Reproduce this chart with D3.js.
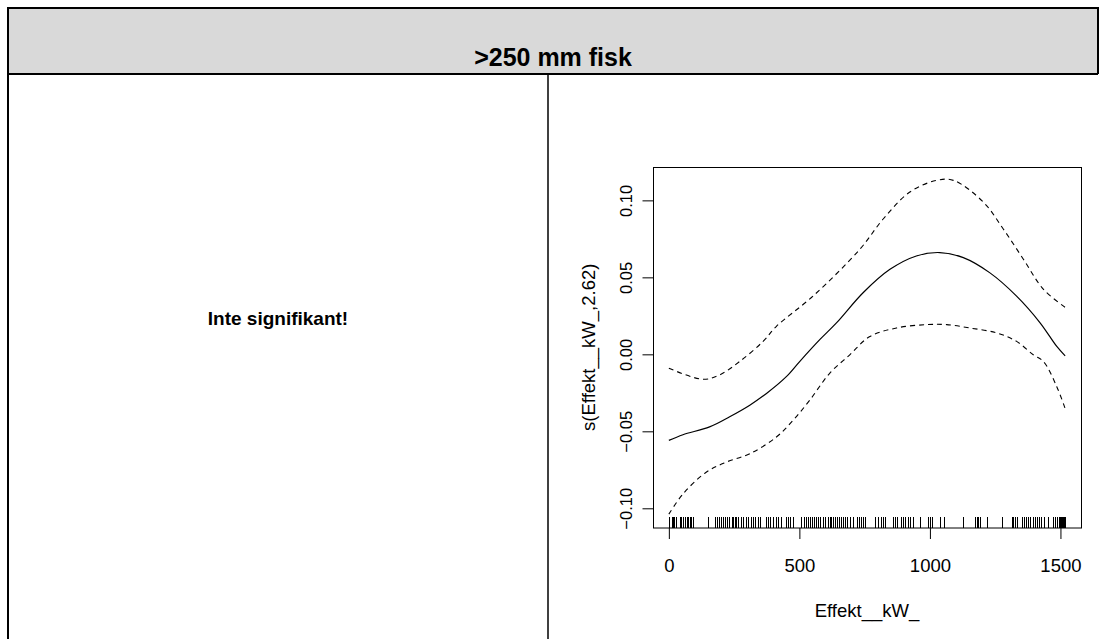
<!DOCTYPE html>
<html lang="sv">

<head>
    <meta charset="UTF-8">
    <script src="https://cdn.jsdelivr.net/npm/d3@7"></script>
    <title>>250 mm fisk</title>
    <style type="text/css">
        body {
            margin: 0;
            background: #fff;
        }

        text {
            font-family: "Liberation Sans", Arial, sans-serif;
            fill: #000;
        }

        .title_text {
            font-weight: bold;
            font-size: 25px;
        }

        .note_text {
            font-weight: bold;
            font-size: 19px;
        }

        .axis_text {
            font-size: 18.5px;
        }

        .ytick_text {
            font-size: 16.5px;
        }
    </style>
</head>

<body>
    <div id="chart" style="width: 1100px; height: 639px;"></div>
    <script>
        // data
        var effekt = [0, 54, 156, 233, 310, 374, 450, 501, 578, 642, 744, 847, 948, 1038, 1128, 1230, 1332, 1422, 1486, 1518];
        var fit = [-0.0559, -0.0522, -0.0471, -0.0405, -0.0330, -0.0254, -0.0145, -0.0047, 0.0095, 0.0204, 0.0400, 0.0552, 0.0639, 0.0661, 0.0628, 0.0529, 0.0378, 0.0205, 0.0051, -0.0010];

        var upperX = [0, 130, 194, 271, 361, 412, 552, 732, 821, 923, 1026, 1090, 1205, 1281, 1358, 1435, 1518];
        var upper = [-0.0090, -0.0162, -0.0134, -0.0047, 0.0084, 0.0182, 0.0378, 0.0683, 0.0879, 0.1054, 0.1130, 0.1130, 0.0988, 0.0814, 0.0618, 0.0422, 0.0305];

        var lowerX = [0, 54, 143, 220, 310, 412, 476, 540, 616, 693, 770, 872, 987, 1064, 1153, 1256, 1332, 1396, 1435, 1486, 1518];
        var lower = [-0.1038, -0.0907, -0.0766, -0.0700, -0.0646, -0.0537, -0.0428, -0.0297, -0.0123, -0.0003, 0.0116, 0.0171, 0.0193, 0.0193, 0.0171, 0.0139, 0.0084, -0.0003, -0.0047, -0.0210, -0.0352];

        var rugX = [0, 12, 15, 18, 28, 41, 47, 54, 60, 69, 75, 81, 86, 92, 150, 175, 185, 194, 201, 208, 215, 222, 230, 240, 245, 252, 258, 264, 278, 284, 297, 303, 316, 322, 329, 340, 348, 374, 380, 386, 399, 412, 418, 431, 450, 456, 463, 476,
            508, 517, 524, 532, 540, 548, 555, 562, 570, 579, 590, 597, 609, 616, 623, 628, 636, 645, 652, 661, 666, 674, 681, 693, 705, 719, 727, 735, 742, 750, 790, 802, 812, 820, 827, 858, 866, 875, 891, 898, 904, 916, 925, 935, 962, 993, 1000,
            1007, 1039, 1054, 1128, 1173, 1180, 1186, 1192, 1218, 1275, 1313, 1320, 1326, 1333, 1352, 1360, 1368, 1376, 1385, 1393, 1402, 1410, 1418, 1427, 1437, 1452, 1472, 1480, 1487, 1493, 1498, 1503, 1507, 1511, 1515, 1518];

        var xTicks = [0, 500, 1000, 1500];
        var yTicks = [-0.10, -0.05, 0.00, 0.05, 0.10];

        var title = ">250 mm fisk";
        var note = "Inte signifikant!";
        var xLabel = "Effekt__kW_";
        var yLabel = "s(Effekt__kW_,2.62)";

        var width = 1100, height = 639;
        var svg = d3.select("#chart").append("svg")
            .attr("width", width)
            .attr("height", height);

        // table frame
        var fLeft = 8, fRight = 1098, fTop = 8, headBottom = 74, split = 548;
        svg.append("rect")
            .attr("x", fLeft).attr("y", fTop)
            .attr("width", fRight - fLeft).attr("height", headBottom - fTop)
            .attr("fill", "#d9d9d9");
        var frame = [
            [fLeft - 1, fTop, fRight + 1, fTop, 2],
            [fLeft, fTop, fLeft, height, 2],
            [fRight, fTop, fRight, headBottom, 2],
            [fLeft, headBottom, fRight, headBottom, 2],
            [split, headBottom, split, height, 1.5]
        ];
        svg.selectAll(".frame").data(frame).enter().append("line")
            .attr("x1", d => d[0]).attr("y1", d => d[1])
            .attr("x2", d => d[2]).attr("y2", d => d[3])
            .attr("stroke", "#000").attr("stroke-width", d => d[4]);

        svg.append("text")
            .attr("class", "title_text")
            .attr("x", (fLeft + fRight) / 2)
            .attr("y", 66)
            .attr("text-anchor", "middle")
            .text(title);

        svg.append("text")
            .attr("class", "note_text")
            .attr("x", (fLeft + split) / 2)
            .attr("y", 325)
            .attr("text-anchor", "middle")
            .text(note);

        // plot region, R style 4% padding
        var box = { x0: 653, x1: 1081, y0: 167, y1: 527.5 };
        var allX = rugX.concat(effekt);
        var xmin = d3.min(allX), xmax = d3.max(allX);
        var xpad = (xmax - xmin) * 0.04;
        var allY = upper.concat(lower, fit);
        var ymin = d3.min(allY), ymax = d3.max(allY);
        var ypad = (ymax - ymin) * 0.04;

        var x = d3.scaleLinear().domain([xmin - xpad, xmax + xpad]).range([box.x0, box.x1]);
        var y = d3.scaleLinear().domain([ymin - ypad, ymax + ypad]).range([box.y1, box.y0]);

        svg.append("rect")
            .attr("x", box.x0 + 0.5).attr("y", box.y0 + 0.5)
            .attr("width", box.x1 - box.x0).attr("height", box.y1 - box.y0)
            .attr("fill", "none").attr("stroke", "#000").attr("stroke-width", 1);

        var xAxis = svg.append("g")
            .attr("transform", "translate(0," + (box.y1 + 0.5) + ")")
            .call(d3.axisBottom(x).tickValues(xTicks).tickSize(11).tickPadding(20).tickFormat(d3.format("d")));
        xAxis.select(".domain").remove();
        xAxis.selectAll("text").attr("class", "axis_text").attr("font-size", null).attr("font-family", null);

        var yAxis = svg.append("g")
            .attr("transform", "translate(" + (box.x0 + 0.5) + ",0)")
            .call(d3.axisLeft(y).tickValues(yTicks).tickSize(11).tickFormat(d3.format(".2f")));
        yAxis.select(".domain").remove();
        yAxis.selectAll("text")
            .attr("class", "ytick_text").attr("font-size", null).attr("font-family", null)
            .attr("x", null).attr("dy", null)
            .attr("text-anchor", "middle")
            .attr("transform", "translate(-22,0) rotate(-90)");

        svg.append("text")
            .attr("class", "axis_text")
            .attr("x", (box.x0 + box.x1) / 2)
            .attr("y", 617)
            .attr("text-anchor", "middle")
            .text(xLabel);

        svg.append("text")
            .attr("class", "axis_text")
            .attr("text-anchor", "middle")
            .attr("transform", "translate(595," + (box.y0 + box.y1) / 2 + ") rotate(-90)")
            .text(yLabel);

        // curves
        var line = d3.line()
            .x(d => x(d[0]))
            .y(d => y(d[1]))
            .curve(d3.curveCatmullRom);

        var plot = svg.append("g");
        plot.append("path")
            .attr("d", line(d3.zip(upperX, upper)))
            .attr("fill", "none").attr("stroke", "#000").attr("stroke-width", 1.1)
            .attr("stroke-dasharray", "5,4");
        plot.append("path")
            .attr("d", line(d3.zip(lowerX, lower)))
            .attr("fill", "none").attr("stroke", "#000").attr("stroke-width", 1.1)
            .attr("stroke-dasharray", "5,4");
        plot.append("path")
            .attr("d", line(d3.zip(effekt, fit)))
            .attr("fill", "none").attr("stroke", "#000").attr("stroke-width", 1.2);

        // rug
        plot.selectAll(".rug").data(rugX).enter().append("line")
            .attr("x1", d => Math.round(x(d)) + 0.5).attr("x2", d => Math.round(x(d)) + 0.5)
            .attr("y1", box.y1).attr("y2", box.y1 - 11)
            .attr("stroke", "#000").attr("stroke-width", 1)
            .attr("shape-rendering", "crispEdges");
    </script>
</body>

</html>
